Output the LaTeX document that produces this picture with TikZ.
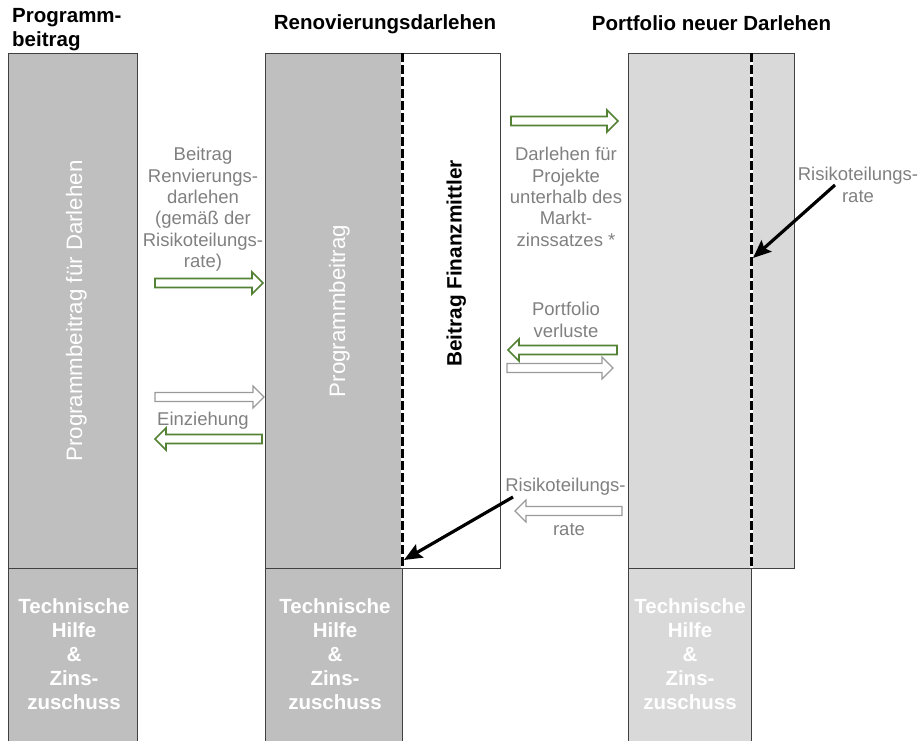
\documentclass[tikz,border=0pt]{standalone}
\usepackage{fontspec}
\setmainfont{Liberation Sans}
\usetikzlibrary{arrows.meta}
\definecolor{dgray}{HTML}{BFBFBF}
\definecolor{lgray}{HTML}{D9D9D9}
\definecolor{bordergray}{HTML}{404040}
\definecolor{txtgray}{HTML}{808080}
\definecolor{agreen}{HTML}{548235}
\definecolor{agray}{HTML}{9A9A9A}
% block arrow pointing right: tail x, tip x, y, style
\newcommand\blockRight[4]{\draw[#4] (#1,{#3-4.5}) -- ({#2-11},{#3-4.5}) -- ({#2-11},{#3-11}) -- (#2,#3) -- ({#2-11},{#3+11}) -- ({#2-11},{#3+4.5}) -- (#1,{#3+4.5}) -- cycle;}
% block arrow pointing left: tail x, tip x, y, style
\newcommand\blockLeft[4]{\draw[#4] (#1,{#3-4.5}) -- ({#2+11},{#3-4.5}) -- ({#2+11},{#3-11}) -- (#2,#3) -- ({#2+11},{#3+11}) -- ({#2+11},{#3+4.5}) -- (#1,{#3+4.5}) -- cycle;}
\tikzset{
  boxdark/.style={fill=dgray, draw=bordergray, line width=1pt},
  boxlight/.style={fill=lgray, draw=bordergray, line width=1pt},
  boxwhite/.style={fill=white, draw=bordergray, line width=1pt},
  greenarrow/.style={draw=agreen, fill=white, line width=1.7pt},
  grayarrow/.style={draw=agray, fill=white, line width=1.2pt},
  ttl/.style={font=\bfseries\fontsize{20.5}{24}\selectfont, inner sep=0pt},
  lbl/.style={font=\fontsize{18.5}{21.4}\selectfont, text=txtgray, align=center, inner sep=0pt},
  vt/.style={font=\fontsize{22.3}{26}\selectfont, text=white, inner sep=0pt, rotate=90, anchor=base},
  bot/.style={font=\bfseries\fontsize{20.5}{24}\selectfont, text=white, align=center, inner sep=0pt, anchor=north},
  dashwhite/.style={white, line width=3pt},
  dashblack/.style={black, line width=3pt, dash pattern=on 9pt off 3pt},
  pointer/.style={black, line width=3.2pt, -{Stealth[length=18pt, width=15pt, inset=3pt]}}
}
\begin{document}
\begin{tikzpicture}[x=1pt, y=-1pt]
\useasboundingbox (0,0) rectangle (918,740);
% boxes
\draw[boxdark] (8,53) rectangle (137,568);
\draw[boxdark] (8,568) rectangle (137,750);
\draw[boxdark] (265,53) rectangle (402.5,568);
\draw[boxwhite] (402.5,53) rectangle (500,568);
\draw[boxdark] (265,568) rectangle (402.5,750);
\draw[boxlight] (628,53) rectangle (794,568);
\draw[boxlight] (628,568) rectangle (751,750);
% dashed lines
\draw[dashwhite] (402.5,53) -- (402.5,568);
\draw[dashblack] (402.5,53) -- (402.5,568);
\draw[dashwhite] (751,53) -- (751,568);
\draw[dashblack] (751,53) -- (751,568);
% titles
\node[ttl, anchor=north west, align=left] (t1) at (12,8.3) {Programm-\\beitrag};
\node[ttl, anchor=base] (t2) at (385,29) {Renovierungsdarlehen};
\node[ttl, anchor=base] (t3) at (711.5,30) {Portfolio neuer Darlehen};
% vertical texts
\node[vt] (v1) at (82,311) {Programmbeitrag für Darlehen};
\node[vt] (v2) at (345,311) {Programmbeitrag};
\node[font=\bfseries\fontsize{20.8}{24}\selectfont, inner sep=0pt, rotate=90, anchor=base] (v3) at (461.5,263.5) {Beitrag Finanzmittler};
% bottom texts
\node[bot] (b1) at (74,598) {Technische\\Hilfe\\\&\\Zins-\\zuschuss};
\node[bot] (b2) at (335,598) {Technische\\Hilfe\\\&\\Zins-\\zuschuss};
\node[bot] (b3) at (690,598) {Technische\\Hilfe\\\&\\Zins-\\zuschuss};
% gray labels
\node[lbl, anchor=north] (l1) at (203,147) {Beitrag\\Renvierungs-\\darlehen\\(gemäß der\\Risikoteilungs-\\rate)};
\node[lbl, anchor=north] (l2) at (203,412) {Einziehung};
\node[lbl, anchor=north] (l3) at (566,147) {Darlehen für\\Projekte\\unterhalb des\\Markt-\\zinssatzes *};
\node[lbl, anchor=north] (l4) at (566,302) {Portfolio\\verluste};
\node[lbl, anchor=north] (l5) at (565.5,478) {Risikoteilungs-};
\node[lbl, anchor=base] (l6) at (569,535) {rate};
\node[lbl, anchor=north] (l7) at (858,167) {Risikoteilungs-\\rate};
% block arrows
\blockRight{155}{263}{283}{greenarrow}
\blockRight{155}{264}{397}{grayarrow}
\blockLeft{262}{155}{439}{greenarrow}
\blockRight{511}{618}{121}{greenarrow}
\blockLeft{617}{508}{350}{greenarrow}
\blockRight{507}{613}{368}{grayarrow}
\blockLeft{622}{515}{511}{grayarrow}
% pointer arrows
\coordinate (p1s) at (513,497);
\coordinate (p1e) at (404,560);
\coordinate (p2s) at (835,185);
\coordinate (p2e) at (753,258);
\draw[pointer] (p1s) -- (p1e);
\draw[pointer] (p2s) -- (p2e);
\end{tikzpicture}
\end{document}
